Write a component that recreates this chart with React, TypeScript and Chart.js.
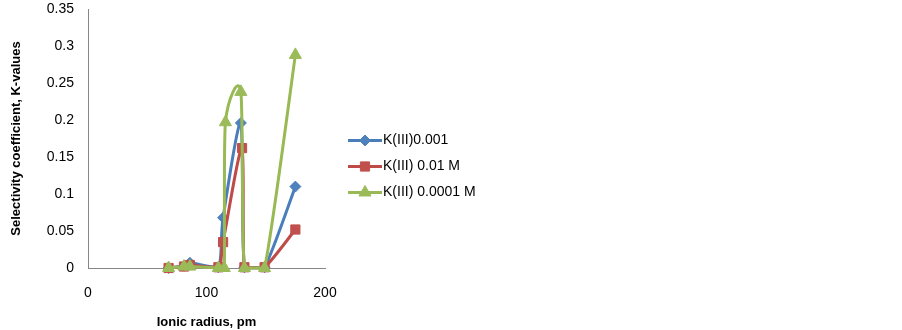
import React, { useEffect, useRef } from "react";
import { Chart, registerables } from "chart.js";

Chart.register(...registerables);

const seriesNames = ["K(III)0.001", "K(III) 0.01 M", "K(III) 0.0001 M"];

const blueX = [68, 81, 86, 110, 114, 129, 132, 149, 175];
const blueY = [0, 0.003, 0.007, 0.001, 0.068, 0.196, 0.001, 0.001, 0.11];

const redX = [68, 81, 86, 110, 114, 130, 132, 149, 175];
const redY = [0, 0.002, 0.004, 0.001, 0.035, 0.162, 0.001, 0.001, 0.052];

const greenX = [68, 81, 86, 110, 115, 116, 129, 132, 149, 175];
const greenY = [0, 0.002, 0.002, 0, 0, 0.197, 0.238, 0, 0, 0.288];

const xTicks = [0, 100, 200];
const yTicks = [0, 0.05, 0.1, 0.15, 0.2, 0.25, 0.3, 0.35];

const FONT = "'Liberation Sans', Arial, sans-serif";

const lineColors = ["#4A7EBB", "#BE4B48", "#98B954"];
const markerColors = ["#4F81BD", "#C0504D", "#9BBB59"];
const markerStyles = ["rectRot", "rect", "triangle"];
const markerRadii = [5.5, 6.5, 7];

const toPts = (xs: number[], ys: number[]) => xs.map((x, i) => ({ x, y: ys[i] }));

const clamp = (v: number, lo: number, hi: number) => Math.min(hi, Math.max(lo, v));

// Excel-like uniform Catmull-Rom style smoothing, computed from the library's own pixel positions
const smoothPlugin = {
  id: "excelSmooth",
  beforeDatasetDraw(chart: any, args: any) {
    const meta = args.meta;
    const line = meta.dataset;
    if (!line) return;
    const pts = meta.data;
    const area = chart.chartArea;
    const n = pts.length;
    const k = 1 / 8;
    for (let i = 0; i < n; i++) {
      const p0 = pts[Math.max(0, i - 1)];
      const p1 = pts[i];
      const p2 = pts[Math.min(n - 1, i + 1)];
      const dx = (p2.x - p0.x) * k;
      const dy = (p2.y - p0.y) * k;
      p1.cp1x = clamp(p1.x - dx, area.left, area.right);
      p1.cp1y = clamp(p1.y - dy, area.top, area.bottom);
      p1.cp2x = clamp(p1.x + dx, area.left, area.right);
      p1.cp2y = clamp(p1.y + dy, area.top, area.bottom);
    }
    line._pointsUpdated = true;
    line._path = undefined;
  },
};

const legendPlugin = {
  id: "customLegend",
  afterDraw(chart: any) {
    const ctx = chart.ctx;
    const ys = [140.5, 166.5, 192.5];
    ctx.save();
    seriesNames.forEach((name, i) => {
      const y = ys[i];
      ctx.strokeStyle = lineColors[i];
      ctx.lineWidth = 3;
      ctx.beginPath();
      ctx.moveTo(348, y);
      ctx.lineTo(382, y);
      ctx.stroke();
      ctx.fillStyle = markerColors[i];
      ctx.strokeStyle = markerColors[i];
      ctx.lineWidth = 1;
      const cx = 365;
      ctx.beginPath();
      if (i === 0) {
        const r = 5.5;
        ctx.moveTo(cx, y - r);
        ctx.lineTo(cx + r, y);
        ctx.lineTo(cx, y + r);
        ctx.lineTo(cx - r, y);
      } else if (i === 1) {
        ctx.rect(cx - 4.6, y - 4.6, 9.2, 9.2);
      } else {
        const r = 7;
        ctx.moveTo(cx, y - r);
        ctx.lineTo(cx + r * 0.866, y + r * 0.5);
        ctx.lineTo(cx - r * 0.866, y + r * 0.5);
      }
      ctx.closePath();
      ctx.fill();
      ctx.stroke();
      ctx.fillStyle = "#000";
      ctx.font = `14px ${FONT}`;
      ctx.textBaseline = "middle";
      ctx.textAlign = "left";
      ctx.fillText(name, 383, y);
    });
    ctx.restore();
  },
};

export default function App() {
  const ref = useRef<HTMLCanvasElement | null>(null);
  useEffect(() => {
    if (!ref.current) return;
    const data = [toPts(blueX, blueY), toPts(redX, redY), toPts(greenX, greenY)];
    const chart = new Chart(ref.current, {
      type: "scatter",
      data: {
        datasets: data.map((d, i) => ({
          label: seriesNames[i],
          data: d,
          showLine: true,
          tension: 0.4,
          borderColor: lineColors[i],
          borderWidth: 3,
          backgroundColor: markerColors[i],
          pointStyle: markerStyles[i] as any,
          pointRadius: markerRadii[i],
          pointBorderColor: markerColors[i],
          pointBackgroundColor: markerColors[i],
          pointBorderWidth: 1,
          clip: false as any,
          order: 3 - i,
        })),
      },
      options: {
        responsive: false,
        animation: false,
        layout: { padding: { left: 0, top: 9, right: 577, bottom: 0 } },
        plugins: { legend: { display: false }, tooltip: { enabled: false } },
        scales: {
          x: {
            type: "linear",
            min: 0,
            max: 200,
            afterBuildTicks: (s: any) => {
              s.ticks = xTicks.map((v) => ({ value: v }));
            },
            afterFit: (s: any) => {
              s.height = 62;
              s.paddingLeft = 0;
              s.paddingRight = 0;
            },
            grid: { display: false, drawTicks: false },
            border: { display: true, color: "#868686", width: 1 },
            ticks: { color: "#000", font: { family: FONT, size: 14 }, padding: 17 },
            title: {
              display: true,
              text: "Ionic radius, pm",
              color: "#000",
              font: { family: FONT, size: 13, weight: "bold" },
              padding: { top: 0, bottom: 0 },
            },
          },
          y: {
            type: "linear",
            min: 0,
            max: 0.35,
            afterBuildTicks: (s: any) => {
              s.ticks = yTicks.map((v) => ({ value: v }));
            },
            afterFit: (s: any) => {
              s.width = 88;
              s.paddingTop = 0;
              s.paddingBottom = 0;
            },
            grid: { display: false, drawTicks: false },
            border: { display: true, color: "#868686", width: 1 },
            ticks: {
              color: "#000",
              font: { family: FONT, size: 14 },
              padding: 14,
              callback: (v: any) => String(+Number(v).toFixed(2)),
            },
            title: {
              display: true,
              text: "Selectivity coefficient, K-values",
              color: "#000",
              font: { family: FONT, size: 13, weight: "bold" },
              padding: { top: 9, bottom: 0 },
            },
          },
        },
      },
      plugins: [smoothPlugin, legendPlugin],
    });
    return () => chart.destroy();
  }, []);
  return (
    <canvas
      ref={ref}
      width={902}
      height={330}
      style={{ position: "absolute", left: 0, top: 0, display: "block" }}
    />
  );
}
